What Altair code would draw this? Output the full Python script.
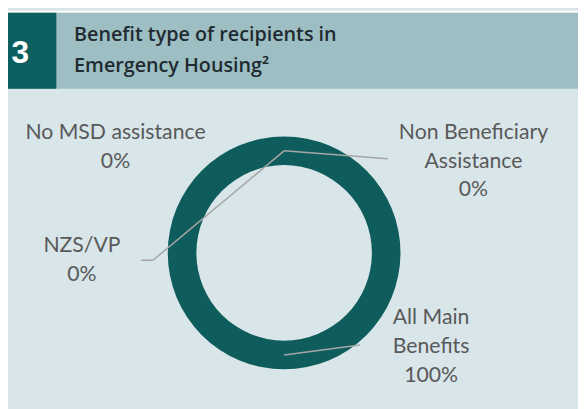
import altair as alt
import pandas as pd

# ---- data ----
categories = ["All Main Benefits", "NZS/VP", "No MSD assistance", "Non Beneficiary Assistance"]
shares = [100, 0, 0, 0]
wrapped = {
    "All Main Benefits": "All Main\nBenefits",
    "NZS/VP": "NZS/VP",
    "No MSD assistance": "No MSD assistance",
    "Non Beneficiary Assistance": "Non Beneficiary\nAssistance",
}
title_lines = ["Benefit type of recipients in", "Emergency Housing²"]
panel_number = "3"

# ---- layout (pixel positions, chart coordinates) ----
W, H = 578, 401
CX, CY = 280, 245.5
label_pos = {
    "No MSD assistance": (109, 124),
    "NZS/VP": (75, 239),
    "Non Beneficiary Assistance": (472, 124),
    "All Main Benefits": (429, 312),
}
leader_paths = {
    "NZS/VP": [(135, 253), (147, 253), (280, 142)],
    "Non Beneficiary Assistance": [(280, 142), (385, 150)],
    "All Main Benefits": [(280, 349), (357, 339)],
}

BG = "#d8e5e9"
HEADER = "#9dbec3"
DARK = "#0c5f5f"
RING = "#0e5d5c"
TXT = "#595959"

df = pd.DataFrame({"category": categories, "share": shares, "order": list(range(len(categories)))})
df["label"] = [f"{wrapped[c]}\n{s}%" for c, s in zip(categories, shares)]
df["lx"] = [label_pos[c][0] for c in categories]
df["ly"] = [label_pos[c][1] for c in categories]

rows = []
for c, pts in leader_paths.items():
    for i, (x, y) in enumerate(pts):
        rows.append({"category": c, "i": i, "px": x, "py": y})
lines_df = pd.DataFrame(rows)

base = alt.Chart(df)
one = pd.DataFrame({"a": [0]})

white_top = alt.Chart(one).mark_rect(color="white").encode(
    x=alt.value(0), x2=alt.value(W), y=alt.value(0), y2=alt.value(2))
header = alt.Chart(one).mark_rect(color=HEADER).encode(
    x=alt.value(0), x2=alt.value(W), y=alt.value(2), y2=alt.value(79))
dark_box = alt.Chart(one).mark_rect(color=DARK).encode(
    x=alt.value(0), x2=alt.value(49), y=alt.value(2), y2=alt.value(79))
num = alt.Chart(pd.DataFrame({"t": [panel_number]})).mark_text(
    font="Liberation Sans", fontSize=32, fontWeight="bold", color="white",
    align="center", baseline="middle").encode(text="t:N", x=alt.value(12.5), y=alt.value(43))
title = alt.Chart(pd.DataFrame({"t": ["\n".join(title_lines)]})).mark_text(
    font="Open Sans", fontSize=20, fontWeight=600, color="#1f2b30", lineBreak="\n",
    lineHeight=31.5, align="left", baseline="middle").encode(
    text="t:N", x=alt.value(67), y=alt.value(25))

ring = base.mark_arc(innerRadius=89, outerRadius=118, stroke=None).encode(
    theta=alt.Theta("share:Q", stack=True),
    order=alt.Order("order:Q"),
    color=alt.value(RING),
    x=alt.value(CX), y=alt.value(CY),
)

leaders = alt.Chart(lines_df).mark_line(color="#a6a6a6", strokeWidth=1.5).encode(
    x=alt.X("px:Q", scale=None, axis=None),
    y=alt.Y("py:Q", scale=None, axis=None),
    detail="category:N",
    order="i:Q",
)

labels = base.mark_text(font="Lato", fontSize=21.5, color=TXT, lineBreak="\n",
                        lineHeight=29, align="center", baseline="middle").encode(
    text="label:N",
    x=alt.X("lx:Q", scale=None, axis=None),
    y=alt.Y("ly:Q", scale=None, axis=None),
)

chart = alt.layer(white_top, header, dark_box, num, title, ring, leaders, labels).properties(
    width=W, height=H, padding=0, background=BG,
    autosize=alt.AutoSizeParams(type="fit", contains="padding"),
).configure_view(stroke=None)

chart.save("out.html", embed_options={"renderer": "svg", "actions": False})
